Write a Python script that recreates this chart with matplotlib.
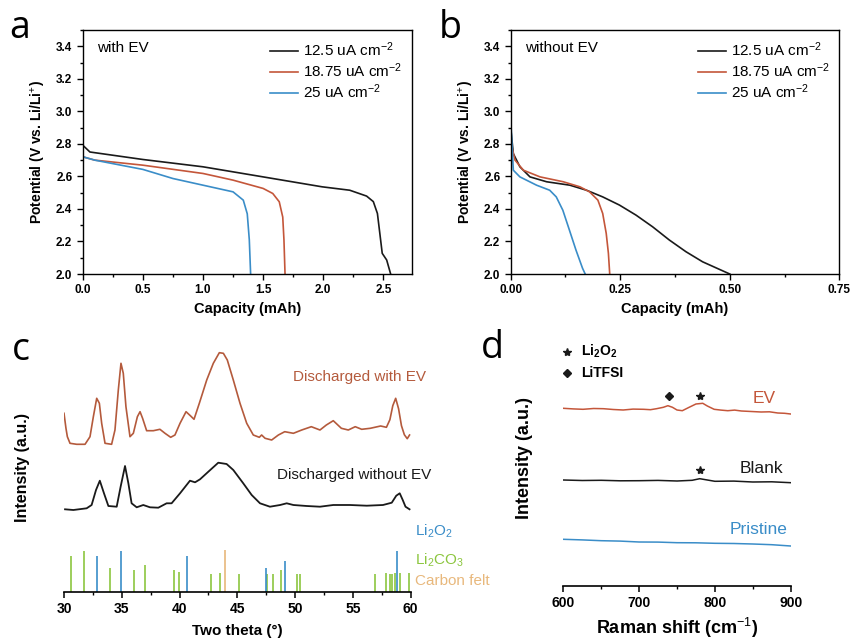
import matplotlib
matplotlib.use("Agg")
import matplotlib.pyplot as plt
from matplotlib.ticker import MultipleLocator, FormatStrFormatter

plt.rcParams['font.family'] = ['Liberation Sans', 'DejaVu Sans']
plt.rcParams['mathtext.fontset'] = 'custom'
plt.rcParams['mathtext.rm'] = 'Liberation Sans'
plt.rcParams['mathtext.it'] = 'Liberation Sans:italic'
plt.rcParams['mathtext.bf'] = 'Liberation Sans:bold'

BLACK = '#1a1a1a'
RED = '#c4563a'
BLUE = '#3a8dc8'
GREEN = '#8cc63f'
TAN = '#e8b87c'
BROWN = '#b45a3c'

# ---------------- data: panel a (with EV) ----------------
a_cap_125 = [0.0, 0.003, 0.06, 0.50, 1.00, 1.50, 1.99, 2.22, 2.36, 2.416, 2.45, 2.47, 2.49, 2.527, 2.56]
a_pot_125 = [2.85, 2.79, 2.75, 2.704, 2.659, 2.597, 2.536, 2.515, 2.479, 2.445, 2.372, 2.25, 2.127, 2.086, 2.0]
a_cap_1875 = [0.0, 0.003, 0.10, 0.50, 1.00, 1.25, 1.50, 1.58, 1.634, 1.663, 1.673, 1.682]
a_pot_1875 = [2.90, 2.72, 2.70, 2.669, 2.618, 2.577, 2.526, 2.495, 2.444, 2.35, 2.21, 2.0]
a_cap_25 = [0.0, 0.004, 0.10, 0.50, 0.75, 1.00, 1.25, 1.335, 1.368, 1.385, 1.396]
a_pot_25 = [3.50, 2.72, 2.70, 2.643, 2.587, 2.546, 2.505, 2.454, 2.37, 2.21, 2.0]

# ---------------- data: panel b (without EV) ----------------
b_cap_125 = [0.0, 0.006, 0.021, 0.044, 0.082, 0.135, 0.173, 0.21, 0.248, 0.286, 0.324, 0.362, 0.40, 0.438, 0.476, 0.50]
b_pot_125 = [2.90, 2.74, 2.659, 2.597, 2.567, 2.546, 2.515, 2.474, 2.424, 2.362, 2.29, 2.209, 2.137, 2.075, 2.029, 2.0]
b_cap_1875 = [0.0, 0.0098, 0.029, 0.067, 0.12, 0.158, 0.18, 0.199, 0.21, 0.218, 0.223, 0.226]
b_pot_1875 = [2.81, 2.70, 2.638, 2.597, 2.567, 2.536, 2.505, 2.454, 2.372, 2.25, 2.127, 2.0]
b_cap_25 = [0.0, 0.006, 0.021, 0.059, 0.089, 0.104, 0.119, 0.134, 0.149, 0.164, 0.17]
b_pot_25 = [2.95, 2.638, 2.597, 2.546, 2.515, 2.474, 2.392, 2.27, 2.147, 2.035, 2.0]

legend_labels = ['12.5 uA cm$^{-2}$', '18.75 uA cm$^{-2}$', '25 uA cm$^{-2}$']

# ---------------- data: panel c (XRD) ----------------
c_theta_ev = [30.0, 30.17, 30.29, 30.52, 31.1, 31.82, 32.25, 32.54, 32.83, 33.06, 33.26, 33.55, 34.12, 34.41,
              34.7, 34.93, 35.13, 35.36, 35.71, 36.0, 36.35, 36.58, 36.8, 37.15, 37.73, 38.3, 38.74, 39.23,
              39.6, 40.04, 40.56, 40.96, 41.25, 41.71, 42.35, 42.92, 43.44, 43.79, 44.13, 44.65, 45.23,
              45.81, 46.38, 46.9, 47.1, 47.4, 47.97, 48.55, 49.1, 49.85, 50.57, 51.4, 52.15, 52.7, 53.3,
              54.0, 54.6, 55.2, 55.76, 56.5, 57.4, 57.9, 58.2, 58.45, 58.7, 58.95, 59.2, 59.45, 59.7, 59.9]
c_int_ev = [178.4, 163.4, 155.0, 148.4, 147.4, 147.4, 155.0, 175.0, 193.4, 188.4, 168.4, 148.4, 147.4, 161.7,
            201.7, 228.4, 218.4, 185.0, 155.0, 158.4, 175.0, 180.0, 173.4, 161.0, 161.0, 162.4, 158.4, 154.4,
            156.7, 168.4, 180.0, 175.7, 172.4, 188.4, 211.7, 228.4, 239.0, 238.4, 231.7, 211.7, 188.4,
            168.4, 156.7, 154.4, 156.7, 153.4, 151.7, 156.7, 160.0, 158.4, 161.7, 165.0, 161.7, 166.7, 171.0,
            163.4, 161.7, 165.0, 162.4, 163.4, 165.7, 164.4, 172.0, 186.0, 193.4, 183.0, 166.0, 157.0, 153.0, 156.7]
c_theta_no = [30.09, 30.81, 31.96, 32.39, 32.77, 33.1, 33.46, 33.84, 34.56, 34.9, 35.28, 35.57, 35.85, 36.29,
              36.86, 37.44, 38.16, 38.88, 39.31, 40.04, 40.9, 41.34, 41.77, 42.49, 43.35, 44.07, 44.65, 45.51,
              46.24, 46.96, 47.82, 48.7, 49.27, 49.85, 51.0, 52.15, 53.3, 54.75, 56.2, 57.6, 58.36, 58.75,
              59.05, 59.3, 59.55, 59.9]
c_int_no = [82.4, 81.7, 83.4, 86.7, 101.7, 111.0, 98.4, 85.7, 85.0, 105.0, 125.7, 108.4, 88.4, 84.4,
            86.7, 84.4, 84.0, 88.4, 88.4, 98.4, 111.0, 109.4, 112.4, 120.0, 129.0, 127.7, 121.7, 108.4,
            96.7, 88.4, 85.0, 86.7, 88.4, 86.7, 85.7, 85.0, 86.7, 86.7, 86.0, 86.7, 89.0, 96.0,
            98.4, 92.0, 85.0, 82.4]
ref_li2o2_pos = [32.85, 34.97, 40.6, 47.44, 49.13, 58.8]
ref_li2o2_h = [35.7, 40.7, 35.7, 24.0, 30.7, 40.7]
ref_li2co3_pos = [30.58, 31.74, 34.0, 36.05, 36.98, 39.56, 39.94, 42.7, 43.5, 45.1, 47.6, 48.1, 48.8,
                  50.15, 50.4, 56.9, 57.85, 58.2, 58.4, 58.6, 59.07, 59.88]
ref_li2co3_h = [35.7, 40.7, 24.0, 21.3, 26.3, 21.3, 19.7, 18.0, 19.0, 17.3, 17.3, 17.3, 21.3,
                17.3, 17.3, 18.0, 19.0, 18.0, 18.0, 18.5, 19.0, 19.0]
ref_cf_pos = [43.95]
ref_cf_h = [41.3]

# ---------------- data: panel d (Raman) ----------------
d_shift_ev = [600, 613, 626, 640, 653, 666, 679, 692, 706, 715, 723, 732, 738, 744, 750, 757, 766, 775, 784,
              790, 799, 808, 817, 826, 835, 848, 861, 872, 883, 892, 900]
d_int_ev = [177.4, 176.8, 176.4, 177.2, 177.0, 176.2, 175.7, 176.6, 176.4, 176.0, 177.0, 178.4, 180.0, 178.4,
            175.7, 175.0, 178.4, 181.7, 182.4, 179.7, 176.4, 175.6, 175.0, 175.6, 174.7, 174.2, 173.7, 173.9,
            172.7, 172.4, 171.7]
d_shift_blank = [600, 625, 650, 675, 700, 725, 750, 770, 780, 790, 800, 825, 850, 875, 900]
d_int_blank = [105.7, 105.2, 105.4, 104.9, 105.0, 105.3, 104.7, 105.4, 107.0, 105.7, 104.4, 104.6, 103.7, 103.9, 103.0]
d_shift_pr = [600, 625, 650, 675, 700, 725, 750, 775, 800, 825, 850, 875, 900]
d_int_pr = [46.4, 45.8, 45.0, 44.6, 43.7, 43.6, 43.0, 42.9, 42.4, 42.2, 41.7, 41.0, 39.7]

# ---------------- figure ----------------
fig = plt.figure(figsize=(8.52, 6.41), dpi=100)
W, H = 852.0, 641.0


def px_axes(l, r, t, b):
    return fig.add_axes([l / W, 1 - b / H, (r - l) / W, (b - t) / H])


for (cap_sets, l, r, xmax, xmaj, xmin, note, fmt) in [
    ([(a_cap_125, a_pot_125), (a_cap_1875, a_pot_1875), (a_cap_25, a_pot_25)], 82.7, 411.7, 2.735, 0.5, 0.25,
     'with EV', '%.1f'),
    ([(b_cap_125, b_pot_125), (b_cap_1875, b_pot_1875), (b_cap_25, b_pot_25)], 510.7, 839.3, 0.75, 0.25, 0.125,
     'without EV', '%.2f'),
]:
    ax = px_axes(l, r, 30, 274)
    for (cx, cy), col, lab in zip(cap_sets, [BLACK, RED, BLUE], legend_labels):
        ax.plot(cx, cy, color=col, lw=1.2, label=lab)
    ax.set_xlim(0, xmax)
    ax.set_ylim(2.0, 3.5)
    ax.xaxis.set_major_locator(MultipleLocator(xmaj))
    ax.xaxis.set_minor_locator(MultipleLocator(xmin))
    ax.set_yticks([2.0, 2.2, 2.4, 2.6, 2.8, 3.0, 3.2, 3.4])
    ax.yaxis.set_minor_locator(MultipleLocator(0.1))
    ax.xaxis.set_major_formatter(FormatStrFormatter(fmt))
    ax.yaxis.set_major_formatter(FormatStrFormatter('%.1f'))
    ax.tick_params(which='both', direction='out', top=False, right=False, width=1.0)
    ax.tick_params(which='major', length=4, labelsize=8.5)
    ax.tick_params(which='minor', length=2.5)
    for lab in ax.get_xticklabels() + ax.get_yticklabels():
        lab.set_fontweight('bold')
    for s in ax.spines.values():
        s.set_linewidth(1.0)
    ax.set_xlabel('Capacity (mAh)', fontsize=10.5, fontweight='bold', labelpad=4)
    ax.set_ylabel('Potential (V vs. Li/Li$^{+}$)', fontsize=10, fontweight='bold', labelpad=6)
    ax.text(0.044, 0.925, note, transform=ax.transAxes, fontsize=11, va='center', ha='left')
    ax.legend(loc='upper left', bbox_to_anchor=(0.57, 0.957), frameon=False, fontsize=11,
              handlelength=1.85, handletextpad=0.3, labelspacing=0.15, borderpad=0, borderaxespad=0)

# ---------------- panel c ----------------
axc = px_axes(64, 410.7, 331.7, 591.7)
axc.plot(c_theta_ev, c_int_ev, color=BROWN, lw=1.2)
axc.plot(c_theta_no, c_int_no, color=BLACK, lw=1.3)
axc.vlines(ref_li2co3_pos, 0, ref_li2co3_h, color=GREEN, lw=1.2)
axc.vlines(ref_li2o2_pos, 0, ref_li2o2_h, color=BLUE, lw=1.2)
axc.vlines(ref_cf_pos, 0, ref_cf_h, color=TAN, lw=1.2)
axc.set_xlim(30, 60)
axc.set_ylim(0, 260)
for s in ['left', 'top', 'right']:
    axc.spines[s].set_visible(False)
axc.spines['bottom'].set_linewidth(1.2)
axc.set_yticks([])
axc.xaxis.set_major_locator(MultipleLocator(5))
axc.xaxis.set_minor_locator(MultipleLocator(2.5))
axc.tick_params(axis='x', which='major', direction='out', length=4, width=1.1, labelsize=10)
axc.tick_params(axis='x', which='minor', direction='out', length=2.5, width=1.0)
for lab in axc.get_xticklabels():
    lab.set_fontweight('bold')
axc.set_xlabel('Two theta (\u00b0)', fontsize=11, fontweight='bold', labelpad=6)
axc.text(49.8, 214.7, 'Discharged with EV', color=BROWN, fontsize=11, va='center', ha='left', clip_on=False)
axc.text(48.4, 116.7, 'Discharged without EV', color=BLACK, fontsize=11, va='center', ha='left', clip_on=False)
axc.text(60.37, 60, 'Li$_{2}$O$_{2}$', color=BLUE, fontsize=11, va='center', ha='left', clip_on=False)
axc.text(60.37, 31.7, 'Li$_{2}$CO$_{3}$', color=GREEN, fontsize=11, va='center', ha='left', clip_on=False)
axc.text(60.37, 11, 'Carbon felt', color=TAN, fontsize=11, va='center', ha='left', clip_on=False)
fig.text(23 / W, 1 - 468 / H, 'Intensity (a.u.)', rotation=90, fontsize=11.5, fontweight='bold',
         ha='center', va='center')

# ---------------- panel d ----------------
axd = px_axes(563.3, 790.7, 330, 585.7)
axd.plot(d_shift_ev, d_int_ev, color=RED, lw=1.1)
axd.plot(d_shift_blank, d_int_blank, color=BLACK, lw=1.1)
axd.plot(d_shift_pr, d_int_pr, color=BLUE, lw=1.1)
axd.set_xlim(600, 900)
axd.set_ylim(0, 255.7)
for s in ['left', 'top', 'right']:
    axd.spines[s].set_visible(False)
axd.spines['bottom'].set_linewidth(1.2)
axd.set_yticks([])
axd.xaxis.set_major_locator(MultipleLocator(100))
axd.xaxis.set_minor_locator(MultipleLocator(50))
axd.tick_params(axis='x', which='major', direction='out', length=4, width=1.1, labelsize=10)
axd.tick_params(axis='x', which='minor', direction='out', length=2.5, width=1.0)
for lab in axd.get_xticklabels():
    lab.set_fontweight('bold')
axd.set_xlabel('Raman shift (cm$^{-1}$)', fontsize=13, fontweight='bold', labelpad=4)
axd.set_ylabel('Intensity (a.u.)', fontsize=13, fontweight='bold', labelpad=22)
axd.plot([740], [189.7], marker='D', ms=4.5, color=BLACK, clip_on=False)
axd.plot([780, 780], [189.7, 115.7], ls='none', marker='*', ms=6, color=BLACK, clip_on=False)
axd.plot([604.4], [234], marker='*', ms=6, color=BLACK, clip_on=False)
axd.plot([605.5], [213], marker='D', ms=4.5, color=BLACK, clip_on=False)
axd.text(624, 234, 'Li$_{\\mathbf{2}}$O$_{\\mathbf{2}}$', fontsize=10, fontweight='bold', va='center', ha='left')
axd.text(624, 213, 'LiTFSI', fontsize=10, fontweight='bold', va='center', ha='left')
axd.text(880.7, 187.4, 'EV', color=RED, fontsize=12.5, va='center', ha='right')
axd.text(890, 117.4, 'Blank', color=BLACK, fontsize=12.5, va='center', ha='right')
axd.text(895.6, 56.4, 'Pristine', color=BLUE, fontsize=12.5, va='center', ha='right')

# ---------------- panel letters ----------------
for letter, x, y in [('a', 9, 38), ('b', 439, 38), ('c', 12, 360), ('d', 481, 358)]:
    fig.text(x / W, 1 - y / H, letter, fontsize=27, family='Open Sans', ha='left', va='baseline')

fig.savefig('out.png', dpi=100)
